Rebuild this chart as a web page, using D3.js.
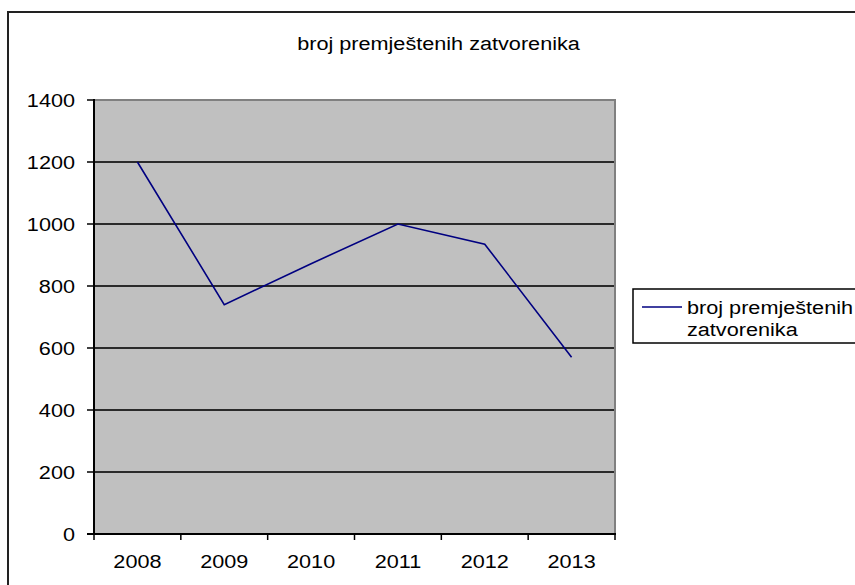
<!DOCTYPE html>
<html>
<head>
<meta charset="utf-8">
<script src="https://cdn.jsdelivr.net/npm/d3@7"></script>
<style>
  body { margin: 0; background: #fff; }
  text { font-family: "Liberation Sans", Arial, sans-serif; font-size: 19px; fill: #000; }
</style>
</head>
<body>
<div id="chart"></div>
<script>
// data
var years = ["2008", "2009", "2010", "2011", "2012", "2013"];
var values = [1200, 740, 872, 1000, 935, 570];
var yTicks = [0, 200, 400, 600, 800, 1000, 1200, 1400];
var title = "broj premještenih zatvorenika";
var seriesName = ["broj premještenih", "zatvorenika"];

var W = 855, H = 585;
var plot = {left: 94, right: 615, top: 100, bottom: 534};
var sx = 1.14; // text looks a bit stretched horizontally

var svg = d3.select("#chart").append("svg")
    .attr("width", W)
    .attr("height", H);

// helper so every label gets the same horizontal stretch
function label(g, x, y, str, anchor) {
  return g.append("text")
      .attr("transform", "translate(" + x + "," + y + ") scale(" + sx + ",1)")
      .attr("text-anchor", anchor || "start")
      .text(str);
}

// outer chart border (runs past the picture on right/bottom)
svg.append("rect")
    .attr("x", 8).attr("y", 12)
    .attr("width", 870).attr("height", 600)
    .attr("fill", "none")
    .attr("stroke", "#222")
    .attr("stroke-width", 2);

var x = d3.scaleBand()
    .domain(years)
    .range([plot.left, plot.right])
    .padding(0);
var y = d3.scaleLinear()
    .domain([0, 1400])
    .range([plot.bottom, plot.top]);

// plot background
svg.append("rect")
    .attr("x", plot.left).attr("y", plot.top)
    .attr("width", plot.right - plot.left)
    .attr("height", plot.bottom - plot.top)
    .attr("fill", "#c0c0c0");

// gridlines
svg.selectAll(".grid")
    .data(yTicks.filter(function(d) { return d > 0 && d < 1400; }))
  .enter().append("line")
    .attr("class", "grid")
    .attr("x1", plot.left).attr("x2", plot.right)
    .attr("y1", function(d) { return y(d); })
    .attr("y2", function(d) { return y(d); })
    .attr("stroke", "#2a2a2a")
    .attr("stroke-width", 2);

// gray top / right border of plot area
svg.append("path")
    .attr("d", "M" + plot.left + "," + y(1400) + "H" + plot.right + "V" + plot.bottom)
    .attr("fill", "none")
    .attr("stroke", "#808080")
    .attr("stroke-width", 2);

// y axis
svg.append("line")
    .attr("x1", plot.left).attr("x2", plot.left)
    .attr("y1", plot.top - 1).attr("y2", plot.bottom)
    .attr("stroke", "#000").attr("stroke-width", 2);
svg.selectAll(".ytick")
    .data(yTicks)
  .enter().append("line")
    .attr("class", "ytick")
    .attr("x1", plot.left - 7).attr("x2", plot.left)
    .attr("y1", function(d) { return y(d); })
    .attr("y2", function(d) { return y(d); })
    .attr("stroke", "#000").attr("stroke-width", 1.5);
yTicks.forEach(function(d) {
  label(svg, 75, y(d) + 7, d, "end");
});

// x axis
svg.append("line")
    .attr("x1", plot.left - 7).attr("x2", plot.right + 1)
    .attr("y1", plot.bottom).attr("y2", plot.bottom)
    .attr("stroke", "#000").attr("stroke-width", 2);
var bounds = years.map(function(d) { return x(d); }).concat([x.range()[1]]);
svg.selectAll(".xtick")
    .data(bounds)
  .enter().append("line")
    .attr("class", "xtick")
    .attr("x1", function(d) { return d; })
    .attr("x2", function(d) { return d; })
    .attr("y1", plot.bottom).attr("y2", plot.bottom + 6)
    .attr("stroke", "#000").attr("stroke-width", 1.5);
years.forEach(function(d) {
  label(svg, x(d) + x.bandwidth() / 2, 567.5, d, "middle");
});

// the line
var line = d3.line()
    .x(function(d, i) { return x(years[i]) + x.bandwidth() / 2; })
    .y(function(d) { return y(d); });
svg.append("path")
    .datum(values)
    .attr("d", line)
    .attr("fill", "none")
    .attr("stroke", "#000080")
    .attr("stroke-width", 1.6);

// title
label(svg, 438.5, 50, title, "middle");

// legend
svg.append("rect")
    .attr("x", 633).attr("y", 289)
    .attr("width", 240).attr("height", 54)
    .attr("fill", "#fff")
    .attr("stroke", "#000")
    .attr("stroke-width", 1.5);
svg.append("line")
    .attr("x1", 642).attr("x2", 682)
    .attr("y1", 307).attr("y2", 307)
    .attr("stroke", "#000080").attr("stroke-width", 1.6);
label(svg, 687, 313.5, seriesName[0]);
label(svg, 687, 336, seriesName[1]);
</script>
</body>
</html>
